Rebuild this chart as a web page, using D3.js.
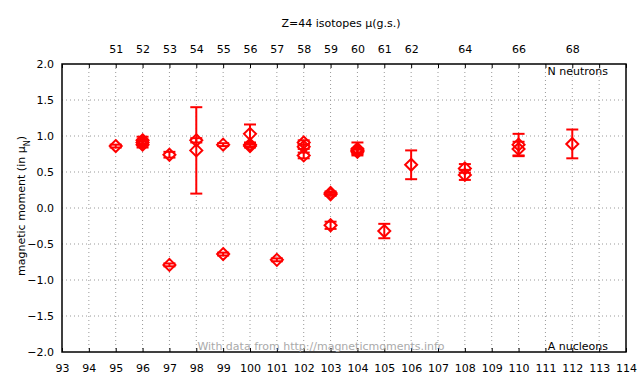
<!DOCTYPE html>
<html>
<head>
<meta charset="utf-8">
<script src="https://cdn.jsdelivr.net/npm/d3@7"></script>
<style>
  body { margin: 0; background: #fff; }
  text { font-family: "DejaVu Sans", sans-serif; font-size: 11px; }
</style>
</head>
<body>
<div id="scene"></div>
<script>
// mass number A, magnetic moment (mu_N), error
var massA = [95, 96, 96, 96, 97, 97, 98, 98, 99, 99, 100, 100, 100, 101,
             102, 102, 102, 103, 103, 103, 104, 104, 104, 105, 106, 108, 108, 110, 110, 112];
var moment = [0.86, 0.94, 0.91, 0.88, 0.74, -0.79, 0.94, 0.80, 0.88, -0.64, 1.03, 0.88, 0.86, -0.72,
              0.91, 0.85, 0.73, 0.21, 0.19, -0.24, 0.82, 0.80, 0.78, -0.32, 0.60, 0.55, 0.46, 0.88, 0.82, 0.89];
var errs = [0.02, 0.05, 0.04, 0.04, 0.04, 0.02, 0.03, 0.60, 0.02, 0.02, 0.13, 0.03, 0.02, 0.02,
            0.03, 0.03, 0.04, 0.02, 0.02, 0.05, 0.09, 0.03, 0.03, 0.10, 0.20, 0.06, 0.07, 0.15, 0.10, 0.20];

var neutronLabels = [51, 52, 53, 54, 55, 56, 57, 58, 59, 60, 61, 62, 64, 66, 68];
var protons = 44;
var yTicks = [2.0, 1.5, 1.0, 0.5, 0.0, -0.5, -1.0, -1.5, -2.0];

var ctx = { w: 640, h: 384, left: 62, right: 626, top: 64, bottom: 352 };

var svg = d3.select("#scene").append("svg")
  .attr("width", ctx.w).attr("height", ctx.h);

var x = d3.scaleLinear().domain([93, 114]).range([ctx.left, ctx.right]);
var y = d3.scaleLinear().domain([-2, 2]).range([ctx.bottom, ctx.top]);
var xTicks = d3.range(93, 115);

// grid
svg.append("g").selectAll("line").data(xTicks.slice(1, -1)).enter().append("line")
  .attr("x1", d => x(d)).attr("x2", d => x(d))
  .attr("y1", ctx.top).attr("y2", ctx.bottom)
  .attr("stroke", "#999").attr("stroke-width", 1).attr("stroke-dasharray", "1,3");
svg.append("g").selectAll("line").data(yTicks.slice(1, -1)).enter().append("line")
  .attr("x1", ctx.left).attr("x2", ctx.right)
  .attr("y1", d => y(d)).attr("y2", d => y(d))
  .attr("stroke", "#999").attr("stroke-width", 1).attr("stroke-dasharray", "1,3");

// axes
svg.append("g").attr("transform", "translate(0," + ctx.bottom + ")")
  .call(d3.axisBottom(x).tickValues(xTicks).tickFormat(d3.format("d")).tickSizeInner(-4).tickSizeOuter(0).tickPadding(12))
  .call(g => g.select(".domain").remove());
svg.append("g").attr("transform", "translate(0," + ctx.top + ")")
  .call(d3.axisTop(x).tickValues(xTicks).tickFormat(d => neutronLabels.indexOf(d - protons) >= 0 ? (d - protons) : "")
    .tickSizeInner(-4).tickSizeOuter(0).tickPadding(11))
  .call(g => g.select(".domain").remove());
svg.append("g").attr("transform", "translate(" + ctx.left + ",0)")
  .call(d3.axisLeft(y).tickValues(yTicks).tickFormat(d3.format(".1f")).tickSize(0).tickPadding(8))
  .call(g => g.select(".domain").remove());
svg.selectAll(".tick text").attr("fill", "#000").style("font-family", "DejaVu Sans").style("font-size", "11px");
svg.selectAll(".tick line").attr("stroke", "#000");

svg.append("rect")
  .attr("x", ctx.left).attr("y", ctx.top)
  .attr("width", ctx.right - ctx.left).attr("height", ctx.bottom - ctx.top)
  .attr("fill", "none").attr("stroke", "#000").attr("stroke-width", 1.5);

// texts
svg.append("text").attr("x", 341).attr("y", 27).attr("text-anchor", "middle")
  .text("Z=44 isotopes \u03bc(g.s.)");
svg.append("text").attr("x", 608).attr("y", 75).attr("text-anchor", "end").text("N neutrons");
svg.append("text").attr("x", 608).attr("y", 350).attr("text-anchor", "end").text("A nucleons");
svg.append("text").attr("x", 321).attr("y", 350).attr("text-anchor", "middle")
  .attr("fill", "#aaa").text("With data from http://magneticmoments.info");
var yl = svg.append("text").attr("transform", "translate(25," + (y(0) - 2) + ") rotate(-90)")
  .attr("text-anchor", "middle").text("magnetic moment (in \u03bc");
yl.append("tspan").attr("baseline-shift", "sub").style("font-size", "8px").text("N");
yl.append("tspan").text(")");

// data
var pts = massA.map((a, i) => ({ a: a, m: moment[i], e: errs[i] }));
var red = "#ff0000";
var gData = svg.append("g");
pts.forEach(function(p) {
  var cx = x(p.a), cy = y(p.m);
  var y0 = y(p.m - p.e), y1 = y(p.m + p.e);
  gData.append("line").attr("x1", cx).attr("x2", cx).attr("y1", y0).attr("y2", y1)
    .attr("stroke", red).attr("stroke-width", 2);
  [y0, y1].forEach(function(yy) {
    gData.append("line").attr("x1", cx - 6).attr("x2", cx + 6).attr("y1", yy).attr("y2", yy)
      .attr("stroke", red).attr("stroke-width", 2);
  });
  var s = 6;
  gData.append("path")
    .attr("d", "M" + cx + "," + (cy - s) + "L" + (cx + s) + "," + cy + "L" + cx + "," + (cy + s) + "L" + (cx - s) + "," + cy + "Z")
    .attr("fill", "none").attr("stroke", red).attr("stroke-width", 2);
});
</script>
</body>
</html>
